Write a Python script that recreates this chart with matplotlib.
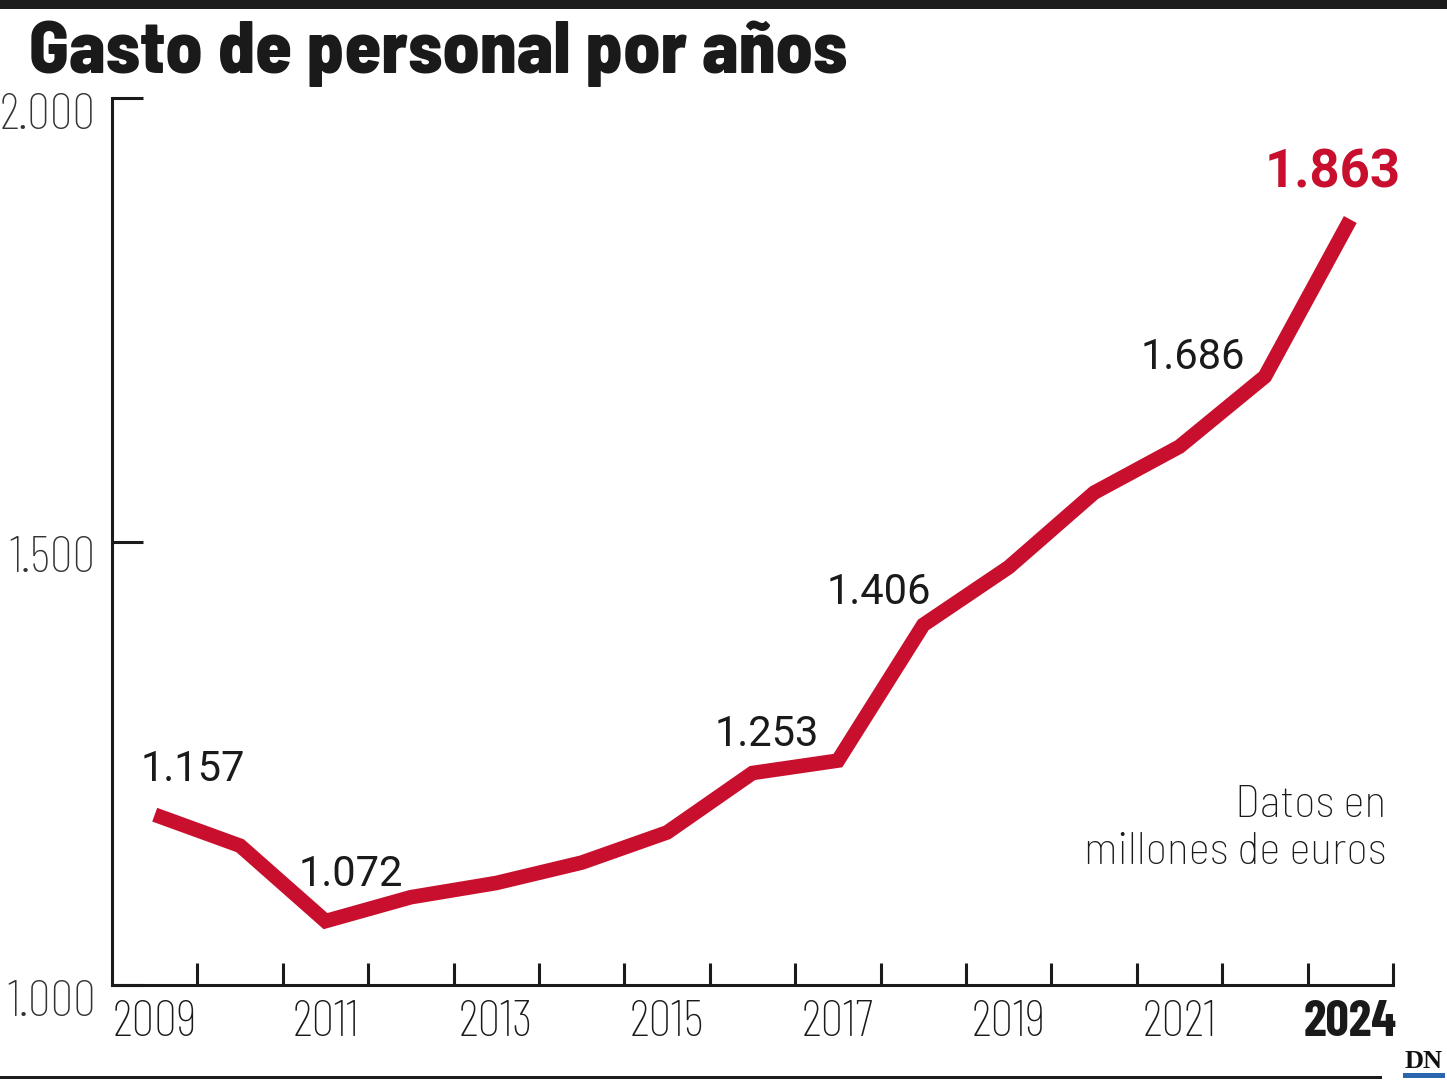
import matplotlib
matplotlib.use("Agg")
import matplotlib.pyplot as plt

# ---- data ----
years = ["2009", "2010", "2011", "2012", "2013", "2014", "2015", "2016",
         "2017", "2018", "2019", "2020", "2021", "2022", "2024"]
gasto = [1192, 1157, 1072, 1099, 1115, 1138, 1172, 1239,
         1253, 1406, 1471, 1555, 1607, 1686, 1863]
shown_years = ["2009", "2011", "2013", "2015", "2017", "2019", "2021", "2024"]
labelled = ["1.157", "1.072", "1.253", "1.406", "1.686", "1.863"]
labelled_idx = [1, 2, 8, 9, 13, 14]
yticks = [1000, 1500, 2000]
ytick_labels = ["1.000", "1.500", "2.000"]

RED = "#C8102E"
INK = "#1a1a1a"
COND = ["Barlow Condensed", "Roboto Condensed", "IBM Plex Sans Condensed", "DejaVu Sans"]
SEMI = ["Barlow Semi Condensed", "Barlow", "Roboto", "DejaVu Sans"]
WIDE = ["Roboto", "Barlow", "DejaVu Sans"]

fig = plt.figure(figsize=(14.47, 10.8), dpi=100)
ax = fig.add_axes([112/1447, 1-985/1080, (1393-112)/1447, (985-98)/1080])

x = list(range(len(years)))
ax.plot(x, gasto, color=RED, lw=10.5, solid_capstyle="butt",
        solid_joinstyle="miter", clip_on=False, zorder=3)

ax.set_xlim(-0.5, len(years) - 0.5)
ax.set_ylim(1000, 2000)

for s in ["top", "right"]:
    ax.spines[s].set_visible(False)
for s in ["left", "bottom"]:
    ax.spines[s].set_linewidth(2.2)
    ax.spines[s].set_color(INK)

# x ticks: boundaries as minor ticks, labels at points
ax.set_xticks([i + 0.5 for i in x], minor=True)
ax.tick_params(axis="x", which="minor", direction="in", length=16,
               width=2.2, color=INK)
pos = [years.index(y) for y in shown_years]
ax.set_xticks(pos)
ax.set_xticklabels(shown_years)
ax.tick_params(axis="x", which="major", length=0, pad=11)
for lbl in ax.get_xticklabels():
    lbl.set_family(COND)
    lbl.set_fontsize(37)
    lbl.set_color(INK)
    if lbl.get_text() == "2024":
        lbl.set_fontweight("bold")
    else:
        lbl.set_fontweight("light")

# y ticks
ax.set_yticks(yticks)
ax.set_yticklabels([])
ax.tick_params(axis="y", direction="in", length=22, width=2.2, color=INK)
for v, t in zip(yticks, ytick_labels):
    ax.annotate(t, xy=(0, v), xycoords=("axes fraction", "data"),
                xytext=(-16, 5), textcoords="offset pixels",
                ha="right", va="top", fontsize=37, family=COND,
                fontweight="light", color="#333333", annotation_clip=False)

# value labels
offsets = [(-47, 65), (25, 35), (-71, 15), (-44, 21), (-72, 8), (-18, 32)]
for t, i, (dx, dy) in zip(labelled, labelled_idx, offsets):
    last = t == labelled[-1]
    ax.annotate(t, xy=(i, gasto[i]), xytext=(dx, dy),
                textcoords="offset pixels", ha="center", va="baseline",
                fontsize=38 if last else 30,
                fontweight="bold" if last else "normal",
                color=RED if last else INK, family=WIDE,
                annotation_clip=False)

# note
fig.text(1386/1447, 1-864/1080, "Datos en\nmillones de euros", ha="right",
         va="baseline", fontsize=33, family=SEMI, fontweight="light",
         color=INK, linespacing=1.2)

# title
fig.text(29/1447, 1-73/1080, "Gasto de personal por años", ha="left",
         va="baseline", fontsize=53, fontweight="heavy", family=SEMI,
         color=INK)

# decorations: top bar, bottom rule, logo
fig.add_artist(plt.Rectangle((0, 1-9/1080), 1, 9/1080, transform=fig.transFigure,
                             color="#1c1c1c", lw=0))
fig.add_artist(plt.Rectangle((0, 1-1079/1080), 1382/1447, 3/1080,
                             transform=fig.transFigure, color="#1c1c1c", lw=0))
fig.text(1424/1447, 1-1068/1080, "DN", ha="center", va="baseline",
         fontsize=19, fontweight="bold", family=["Liberation Serif", "DejaVu Serif"],
         color="#111111")
fig.add_artist(plt.Rectangle((1403/1447, 1-1078/1080), 42/1447, 5/1080,
                             transform=fig.transFigure, color="#2a66ad", lw=0))

fig.savefig("out.png", dpi=100)
